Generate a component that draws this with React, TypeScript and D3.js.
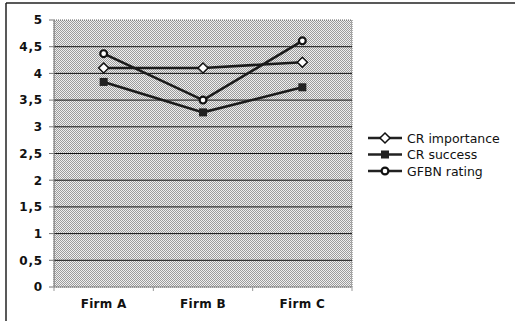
import React from "react";
import * as d3 from "d3";

const categories = ["Firm A", "Firm B", "Firm C"];
const crImportance = [4.1, 4.1, 4.21];
const crSuccess = [3.84, 3.27, 3.74];
const gfbnRating = [4.37, 3.5, 4.61];
const yTicks = [0, 0.5, 1, 1.5, 2, 2.5, 3, 3.5, 4, 4.5, 5];
const seriesNames = ["CR importance", "CR success", "GFBN rating"];

const W = 515, H = 321;
const left = 54, right = 352, top = 20, bottom = 287;

function Marker({ type, x, y }: { type: string; x: number; y: number }) {
  if (type === "diamond") {
    const s = 5;
    return <path d={`M${x},${y - s}L${x + s},${y}L${x},${y + s}L${x - s},${y}Z`} fill="#fff" stroke="#111" strokeWidth={1.5} />;
  }
  if (type === "square") {
    return <rect x={x - 4} y={y - 4} width={8} height={8} fill="#222" />;
  }
  return <circle cx={x} cy={y} r={3.4} fill="#fff" stroke="#111" strokeWidth={2.2} />;
}

export default function App() {
  const x = d3.scaleBand<string>().domain(categories).range([left, right]);
  const y = d3.scaleLinear().domain([0, 5]).range([bottom, top]);
  const series = [
    { name: seriesNames[0], values: crImportance, marker: "diamond" },
    { name: seriesNames[1], values: crSuccess, marker: "square" },
    { name: seriesNames[2], values: gfbnRating, marker: "circle" },
  ];
  const line = d3
    .line<number>()
    .x((_, i) => (x(categories[i]) as number) + x.bandwidth() / 2)
    .y((d) => y(d));
  const legendY = [138, 154.5, 171];
  return (
    <svg width={W} height={H} style={{ position: "absolute", left: 0, top: 0, background: "#fff" }}>
      <defs>
        <pattern id="dither" width={2} height={2} patternUnits="userSpaceOnUse">
          <rect width={2} height={2} fill="#efefef" />
          <rect width={1} height={1} fill="#9c9c9c" />
          <rect x={1} y={1} width={1} height={1} fill="#9c9c9c" />
        </pattern>
      </defs>
      {/* outer frame */}
      <line x1={6} y1={3} x2={515} y2={3} stroke="#222" strokeWidth={1.5} />
      <line x1={6} y1={3} x2={6} y2={321} stroke="#222" strokeWidth={1.5} />
      {/* plot area */}
      <rect x={left} y={top} width={right - left} height={bottom - top} fill="url(#dither)" />
      <rect x={left} y={top} width={right - left} height={bottom - top} fill="none" stroke="#666" strokeWidth={1} strokeDasharray="1 1" />
      {yTicks.map((t) => (
        <g key={t}>
          {t > 0 && t < 5 && <line x1={left} x2={right} y1={y(t)} y2={y(t)} stroke="#111" strokeWidth={1} />}
          <line x1={left - 5} x2={left} y1={y(t)} y2={y(t)} stroke="#777" strokeWidth={1} />
          <text x={43} y={y(t)} dy="0.36em" textAnchor="end" fontFamily="DejaVu Sans" fontWeight="bold" fontSize={12} letterSpacing={0.8} fill="#111">
            {String(t).replace(".", ",")}
          </text>
        </g>
      ))}
      <line x1={left} x2={left} y1={top} y2={bottom} stroke="#888" strokeWidth={1} />
      <line x1={left} x2={right} y1={bottom} y2={bottom} stroke="#888" strokeWidth={1} />
      {[0, 1, 2, 3].map((i) => {
        const xx = left + i * x.step();
        return <line key={i} x1={xx} x2={xx} y1={bottom} y2={bottom + 4} stroke="#999" strokeWidth={1} />;
      })}
      {categories.map((c) => (
        <text key={c} x={(x(c) as number) + x.bandwidth() / 2} y={308} textAnchor="middle" fontFamily="DejaVu Sans" fontWeight="bold" fontSize={12} letterSpacing={0.3} fill="#111">
          {c}
        </text>
      ))}
      {series.map((s) => (
        <g key={s.name}>
          <path d={line(s.values) || ""} fill="none" stroke="#1a1a1a" strokeWidth={2.6} />
          {s.values.map((v, i) => (
            <Marker key={i} type={s.marker} x={(x(categories[i]) as number) + x.bandwidth() / 2} y={y(v)} />
          ))}
        </g>
      ))}
      {series.map((s, i) => (
        <g key={s.name}>
          <line x1={368} x2={402} y1={legendY[i]} y2={legendY[i]} stroke="#222" strokeWidth={2.4} />
          <Marker type={s.marker} x={385} y={legendY[i]} />
          <text x={407} y={legendY[i]} dy="0.36em" fontFamily="DejaVu Sans" fontSize={12.5} fill="#111">
            {s.name}
          </text>
        </g>
      ))}
    </svg>
  );
}
